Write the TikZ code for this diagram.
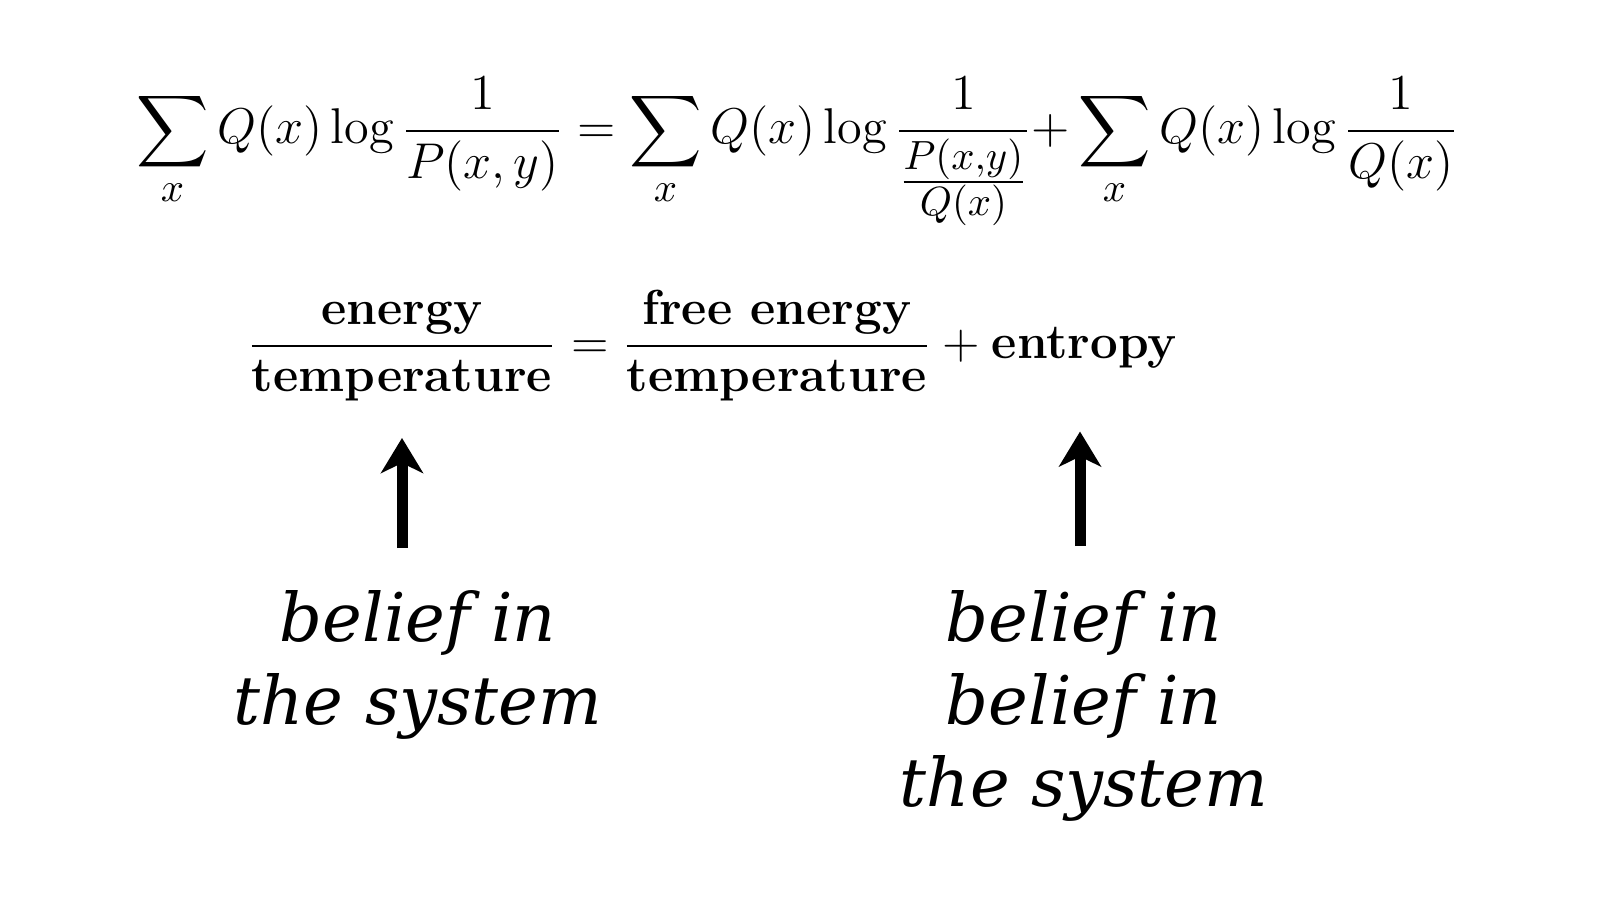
\RequirePackage{fix-cm}
\documentclass[tikz,border=0pt]{standalone}
\usepackage{amsmath,amssymb}
\usepackage{fontspec}
\usepackage{tikz}
\usetikzlibrary{positioning,calc,arrows.meta}
\newfontfamily\beliefsfont{DejaVu Serif}
\DeclareMathSizes{14.3}{14.3}{11.6}{8.9}

\begin{document}
\begin{tikzpicture}[
        eqn/.style={inner sep=0pt, font=\fontsize{14.3}{17}\selectfont},
        midrow/.style={inner sep=0pt, font=\fontsize{14}{16.8}\selectfont},
        belief/.style={inner sep=0pt, align=center, font=\beliefsfont\itshape\fontsize{19.1}{23.5}\selectfont},
        bigarrow/.style={-{Stealth[length=0.35cm,width=0.42cm,inset=0.1cm]}, line width=0.11cm}
    ]
        \useasboundingbox (0,0) rectangle (16,9);
        \node [eqn, anchor=base] (KL) at (7.97,7.56) {$\displaystyle \sum_x Q(x)\log\frac{1}{P(x,y)} = \sum_x Q(x)\log\frac{1}{\frac{P(x,y)}{Q(x)}}{+}\sum_x Q(x)\log\frac{1}{Q(x)}$};
        
        \node [midrow, anchor=base] (E) at (4.02,5.42) {$\dfrac{\textbf{energy}}{\textbf{temperature}}$};
        \node [midrow, anchor=base west] (F) at (E.base east) {$\;=\dfrac{\textbf{free energy}}{\textbf{temperature}}+{}$};
        \node [midrow, anchor=base west] (S) at (F.base east) {\textbf{entropy}};
        
        \node [belief, anchor=north] (B1) at (4.18,3.10) {belief in\\the system};
        \node [belief, anchor=north] (B2) at (10.84,3.10) {belief in\\belief in\\the system};
        
        \draw [bigarrow, shorten <=0.42cm, shorten >=0.36cm] (B1.north -| E.south) -- (E.south);
        \draw [bigarrow, shorten <=0.44cm, shorten >=0.63cm] ([xshift=-0.04cm]B2.north) -- ([xshift=-0.04cm]B2.north |- S.south);
    \end{tikzpicture}
\end{document}
